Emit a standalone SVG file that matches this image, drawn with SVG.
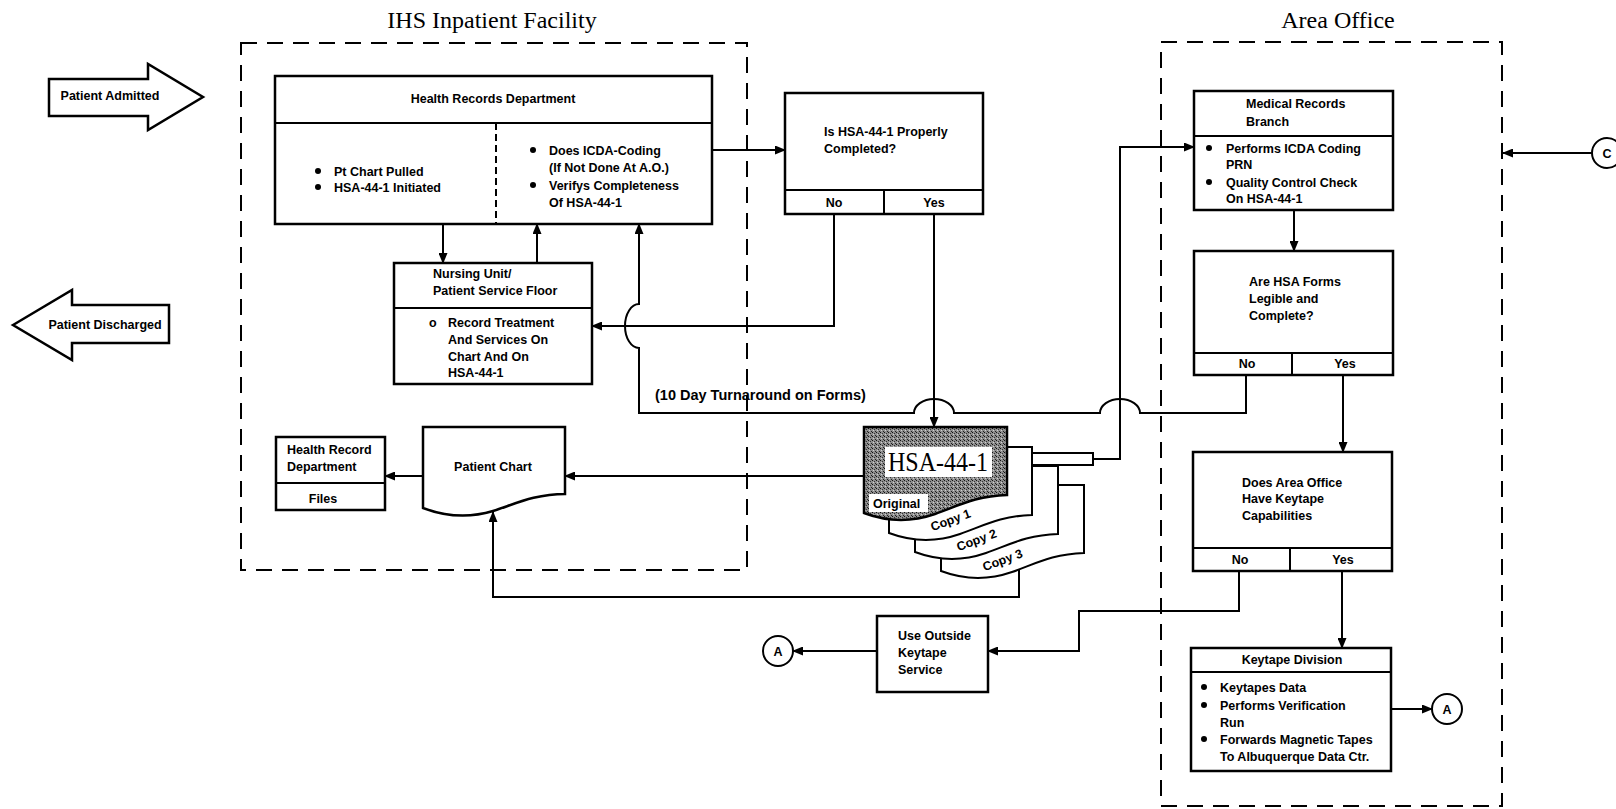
<svg xmlns="http://www.w3.org/2000/svg" width="1616" height="809" viewBox="0 0 1616 809">
<style>
.bg{fill:#fff}
.box{fill:#fff;stroke:#000;stroke-width:2.5}
.dv{stroke:#000;stroke-width:2;fill:none}
.dash{fill:none;stroke:#000;stroke-width:2;stroke-dasharray:16 10}
.sdash{fill:none;stroke:#000;stroke-width:2;stroke-dasharray:7 4}
.ln{fill:none;stroke:#000;stroke-width:2}
.t{font-family:"Liberation Sans",Arial,sans-serif;font-weight:bold;font-size:12.5px;fill:#000}
.big{font-size:14.5px}
.bu{fill:#000}
.c{text-anchor:middle}
.title{font-family:"Liberation Serif","Times New Roman",serif;font-size:24px;fill:#000;text-anchor:middle}
.sheet{fill:#fff;stroke:#000;stroke-width:2}
</style>
<defs>
<marker id="ah" markerWidth="11" markerHeight="9" refX="10" refY="4.5" orient="auto" markerUnits="userSpaceOnUse">
<path d="M0,0 L11,4.5 L0,9 Z" fill="#000"/>
</marker>
<pattern id="stip" width="4" height="4" patternUnits="userSpaceOnUse">
<rect width="4" height="4" fill="#8e8e8e"/>
<rect x="0" y="0" width="1" height="1" fill="#111"/>
<rect x="2" y="1" width="1" height="1" fill="#333"/>
<rect x="1" y="2" width="1" height="1" fill="#d0d0d0"/>
<rect x="3" y="3" width="1" height="1" fill="#222"/>
</pattern>
<path id="sheetp" d="M864,427 H1007 V495 C975,496 958,506 935,514 C912,522 888,522 864,513 Z"/>
</defs>
<rect class="bg" width="1616" height="809"/>

<text class="title" x="492" y="28">IHS Inpatient Facility</text>
<text class="title" x="1338" y="28">Area Office</text>

<rect class="dash" x="241" y="43" width="506" height="527"/>
<rect class="dash" x="1161" y="42" width="341" height="764"/>

<g id="patient-admitted">
<polygon class="box" stroke-width="2" points="49,79 148,79 148,64 203,97 148,130 148,116 49,116"/>
<text class="t c" x="110" y="100">Patient Admitted</text>
</g>
<g id="patient-discharged">
<polygon class="box" stroke-width="2" points="13,325 72,290 72,305 169,305 169,343 72,343 72,360"/>
<text class="t c" x="105" y="329">Patient Discharged</text>
</g>

<g id="health-records-dept">
<rect class="box" x="275" y="76" width="437" height="148"/>
<line class="dv" x1="275" y1="123" x2="712" y2="123"/>
<line class="sdash" x1="496" y1="123" x2="496" y2="224"/>
<text class="t c" x="493" y="103">Health Records Department</text>
<circle class="bu" cx="318" cy="171" r="3"/>
<text class="t" x="334" y="176">Pt Chart Pulled</text>
<circle class="bu" cx="318" cy="187" r="3"/>
<text class="t" x="334" y="192">HSA-44-1 Initiated</text>
<circle class="bu" cx="533" cy="150" r="3"/>
<text class="t" x="549" y="155">Does ICDA-Coding</text>
<text class="t" x="549" y="172">(If Not Done At A.O.)</text>
<circle class="bu" cx="533" cy="185" r="3"/>
<text class="t" x="549" y="190">Verifys Completeness</text>
<text class="t" x="549" y="207">Of HSA-44-1</text>
</g>

<g id="nursing-unit">
<rect class="box" x="394" y="263" width="198" height="121"/>
<line class="dv" x1="394" y1="308" x2="592" y2="308"/>
<text class="t" x="433" y="278">Nursing Unit/</text>
<text class="t" x="433" y="295">Patient Service Floor</text>
<text class="t" x="429" y="327">o</text>
<text class="t" x="448" y="327">Record Treatment</text>
<text class="t" x="448" y="344">And Services On</text>
<text class="t" x="448" y="361">Chart And On</text>
<text class="t" x="448" y="377">HSA-44-1</text>
</g>

<g id="is-hsa-completed">
<rect class="box" x="785" y="93" width="198" height="121"/>
<line class="dv" x1="785" y1="190" x2="983" y2="190"/>
<line class="dv" x1="884" y1="190" x2="884" y2="214"/>
<text class="t" x="824" y="136">Is HSA-44-1 Properly</text>
<text class="t" x="824" y="153">Completed?</text>
<text class="t c" x="834" y="207">No</text>
<text class="t c" x="934" y="207">Yes</text>
</g>

<g id="hr-files">
<rect class="box" x="276" y="437" width="109" height="73"/>
<line class="dv" x1="276" y1="483" x2="385" y2="483"/>
<text class="t" x="287" y="454">Health Record</text>
<text class="t" x="287" y="471">Department</text>
<text class="t c" x="323" y="503">Files</text>
</g>

<g id="patient-chart">
<path class="box" d="M423,427 H565 V494 C535,494 515,504 493,511 C470,518 447,517 423,508 Z"/>
<text class="t c" x="493" y="471">Patient Chart</text>
</g>

<g id="hsa-44-1-form">
<rect class="sheet" x="1032" y="453" width="61" height="12"/>
<use href="#sheetp" class="sheet" transform="translate(77,58)"/>
<use href="#sheetp" class="sheet" transform="translate(51,39)"/>
<use href="#sheetp" class="sheet" transform="translate(25,20)"/>
<use href="#sheetp" fill="url(#stip)" stroke="#000" stroke-width="2.5"/>
<rect x="885" y="447" width="107" height="30" fill="#fff"/>
<text x="888" y="471" font-family="Liberation Serif,Times New Roman,serif" font-size="27" textLength="100" lengthAdjust="spacingAndGlyphs" fill="#000">HSA-44-1</text>
<rect x="869" y="494" width="59" height="18" fill="#fff"/>
<text class="t" x="873" y="508">Original</text>
<text class="t c" transform="translate(952,524) rotate(-20)">Copy 1</text>
<text class="t c" transform="translate(978,544) rotate(-20)">Copy 2</text>
<text class="t c" transform="translate(1004,564) rotate(-20)">Copy 3</text>
</g>

<g id="medical-records-branch">
<rect class="box" x="1194" y="91" width="199" height="119"/>
<line class="dv" x1="1194" y1="136" x2="1393" y2="136"/>
<text class="t" x="1246" y="108">Medical Records</text>
<text class="t" x="1246" y="126">Branch</text>
<circle class="bu" cx="1209" cy="148" r="3"/>
<text class="t" x="1226" y="153">Performs ICDA Coding</text>
<text class="t" x="1226" y="169">PRN</text>
<circle class="bu" cx="1209" cy="182" r="3"/>
<text class="t" x="1226" y="187">Quality Control Check</text>
<text class="t" x="1226" y="203">On HSA-44-1</text>
</g>

<g id="are-hsa-forms-legible">
<rect class="box" x="1194" y="251" width="199" height="124"/>
<line class="dv" x1="1194" y1="353" x2="1393" y2="353"/>
<line class="dv" x1="1292" y1="353" x2="1292" y2="375"/>
<text class="t" x="1249" y="286">Are HSA Forms</text>
<text class="t" x="1249" y="303">Legible and</text>
<text class="t" x="1249" y="320">Complete?</text>
<text class="t c" x="1247" y="368">No</text>
<text class="t c" x="1345" y="368">Yes</text>
</g>

<g id="keytape-capabilities">
<rect class="box" x="1193" y="452" width="199" height="119"/>
<line class="dv" x1="1193" y1="548" x2="1392" y2="548"/>
<line class="dv" x1="1290" y1="548" x2="1290" y2="571"/>
<text class="t" x="1242" y="487">Does Area Office</text>
<text class="t" x="1242" y="503">Have Keytape</text>
<text class="t" x="1242" y="520">Capabilities</text>
<text class="t c" x="1240" y="564">No</text>
<text class="t c" x="1343" y="564">Yes</text>
</g>

<g id="keytape-division">
<rect class="box" x="1191" y="648" width="200" height="123"/>
<line class="dv" x1="1191" y1="672" x2="1391" y2="672"/>
<text class="t c" x="1292" y="664">Keytape Division</text>
<circle class="bu" cx="1204" cy="687" r="3"/>
<text class="t" x="1220" y="692">Keytapes Data</text>
<circle class="bu" cx="1204" cy="705" r="3"/>
<text class="t" x="1220" y="710">Performs Verification</text>
<text class="t" x="1220" y="727">Run</text>
<circle class="bu" cx="1204" cy="739" r="3"/>
<text class="t" x="1220" y="744">Forwards Magnetic Tapes</text>
<text class="t" x="1220" y="761">To Albuquerque Data Ctr.</text>
</g>

<g id="outside-keytape">
<rect class="box" x="877" y="616" width="111" height="76"/>
<text class="t" x="898" y="640">Use Outside</text>
<text class="t" x="898" y="657">Keytape</text>
<text class="t" x="898" y="674">Service</text>
</g>

<g id="connector-a-left">
<circle cx="778" cy="651" r="15" fill="#fff" stroke="#000" stroke-width="2"/>
<text class="t c" x="778" y="656">A</text>
</g>
<g id="connector-a-right">
<circle cx="1447" cy="709" r="15" fill="#fff" stroke="#000" stroke-width="2"/>
<text class="t c" x="1447" y="714">A</text>
</g>
<g id="connector-c">
<circle cx="1607" cy="153" r="15" fill="#fff" stroke="#000" stroke-width="2"/>
<text class="t c" x="1607" y="158">C</text>
</g>

<g id="connectors">
<path class="ln" d="M443,224 V263" marker-end="url(#ah)"/>
<path class="ln" d="M537,263 V224" marker-end="url(#ah)"/>
<path class="ln" d="M712,150 H785" marker-end="url(#ah)"/>
<path class="ln" d="M834,214 V326 H592" marker-end="url(#ah)"/>
<path class="ln" d="M934,214 V427" marker-end="url(#ah)"/>
<path class="ln" d="M1246,375 V413 H1140 A20,14 0 0 0 1100,413 H954 A20,14 0 0 0 914,413 H639 V348 A14,22 0 0 1 639,304 V224" marker-end="url(#ah)"/>
<path class="ln" d="M1093,459 H1120 V147 H1194" marker-end="url(#ah)"/>
<path class="ln" d="M864,476 H565" marker-end="url(#ah)"/>
<path class="ln" d="M423,476 H385" marker-end="url(#ah)"/>
<path class="ln" d="M1019,570 V597 H493 V512" marker-end="url(#ah)"/>
<path class="ln" d="M1294,210 V251" marker-end="url(#ah)"/>
<path class="ln" d="M1343,375 V452" marker-end="url(#ah)"/>
<path class="ln" d="M1239,571 V611 H1079 V651 H988" marker-end="url(#ah)"/>
<path class="ln" d="M877,651 H793" marker-end="url(#ah)"/>
<path class="ln" d="M1342,571 V648" marker-end="url(#ah)"/>
<path class="ln" d="M1391,709 H1432" marker-end="url(#ah)"/>
<path class="ln" d="M1592,153 H1503" marker-end="url(#ah)"/>
<text class="t big" x="655" y="400">(10 Day Turnaround on Forms)</text>
</g>
</svg>
